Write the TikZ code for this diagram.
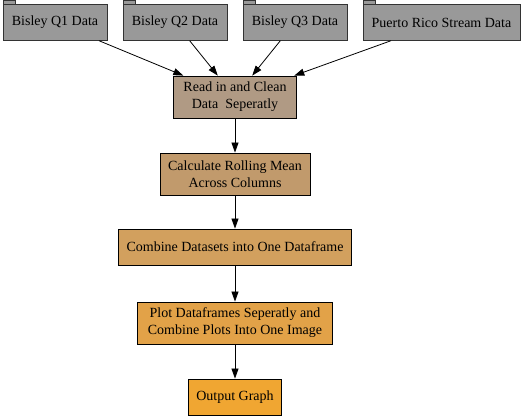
\documentclass[tikz,border=0pt]{standalone}
\usepackage{fontspec}
\setmainfont{Liberation Serif}
\usepackage{xcolor}
\usetikzlibrary{positioning,shapes,arrows.meta}

\definecolor{foldergray}{RGB}{153,153,153}
\definecolor{readcol}{RGB}{176,154,132}
\definecolor{calccol}{RGB}{193,154,108}
\definecolor{combcol}{RGB}{210,160,94}
\definecolor{plotcol}{RGB}{226,162,72}
\definecolor{outcol}{RGB}{240,166,50}

\begin{document}
\begin{tikzpicture}[x=1pt,y=1pt,font=\fontsize{14}{17}\selectfont,
  folder/.style={draw=black!80,fill=foldergray,minimum height=36pt,inner sep=0pt},
  stepbox/.style={draw=black,line width=0.8pt,align=center,minimum height=42pt,inner sep=0pt},
  flow/.style={-{Triangle[length=10pt,width=7pt]},line width=0.8pt}]
\useasboundingbox (0,0) rectangle (523,420);
% input files
\node [folder,minimum width=104pt] (q1) at (55,397.5) {Bisley Q1 Data};
\node [folder,minimum width=104pt] (q2) at (175,397.5) {Bisley Q2 Data};
\node [folder,minimum width=104pt] (q3) at (295,397.5) {Bisley Q3 Data};
\node [folder,minimum width=157pt] (pr) at (441.5,397.5) {Puerto Rico Stream Data};
\foreach \f in {q1,q2,q3,pr}
  \draw [draw=black!80,fill=foldergray] (\f.north west) rectangle ++(12,4);
% processing steps
\node [stepbox,fill=readcol,minimum width=123pt] (read) at (235,323) {Read in and Clean\\Data~ Seperatly};
\node [stepbox,fill=calccol,minimum width=150pt] (calc) at (235,246) {Calculate Rolling Mean\\Across Columns};
\node [stepbox,fill=combcol,minimum width=233pt,minimum height=36pt] (comb) at (235,173) {Combine Datasets into One Dataframe};
\node [stepbox,fill=plotcol,minimum width=195pt] (plot) at (235,97) {Plot Dataframes Seperatly and\\Combine Plots Into One Image};
\node [stepbox,fill=outcol,minimum width=93pt,minimum height=36pt] (out) at (235,23) {Output Graph};
% edges
\foreach \f in {q1,q2,q3,pr}
  \draw [flow] (\f) -- (read);
\draw [flow] (read) -- (calc);
\draw [flow] (calc) -- (comb);
\draw [flow] (comb) -- (plot);
\draw [flow] (plot) -- (out);
\end{tikzpicture}
\end{document}
